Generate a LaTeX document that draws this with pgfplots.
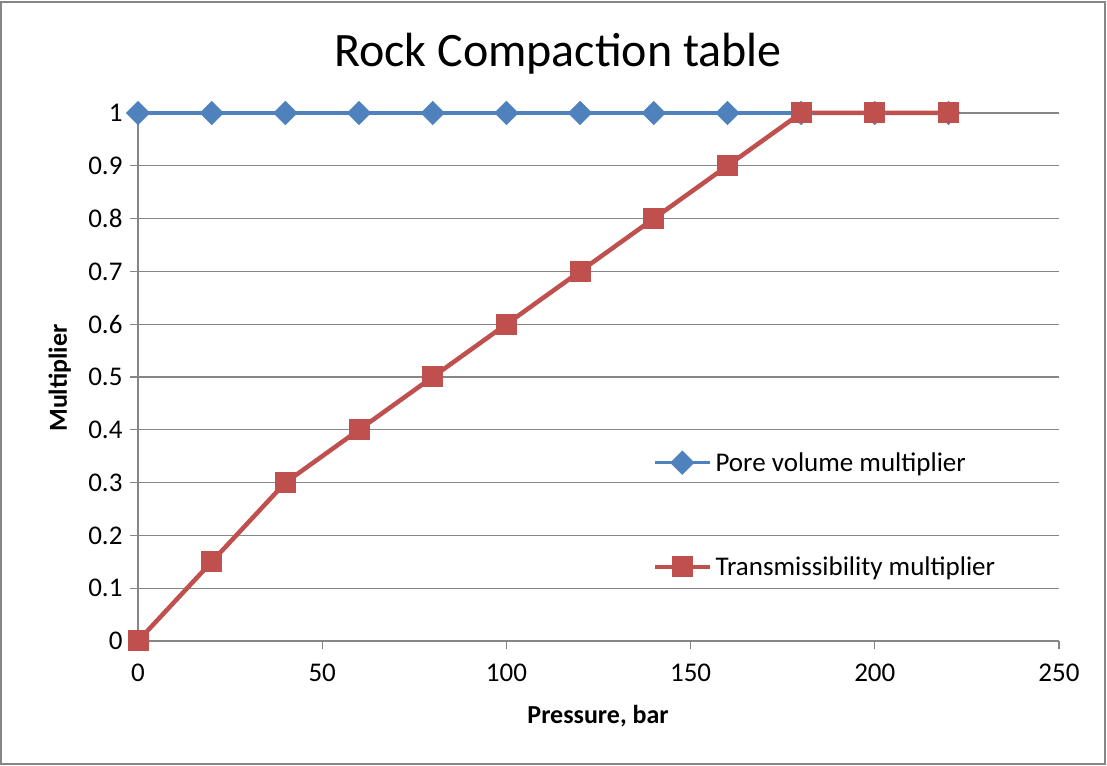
\documentclass[border=0pt]{standalone}
\usepackage{pgfplots}
\pgfplotsset{compat=1.18}
\usepackage{fontspec}
\setmainfont{Carlito}
\definecolor{xlblue}{HTML}{4F81BD}
\definecolor{xlred}{HTML}{C0504D}
\definecolor{xlgrid}{HTML}{868686}
\begin{document}
\begin{tikzpicture}[x=1pt,y=1pt]
\useasboundingbox (0,0) rectangle (1107,765);
\draw[xlgrid, line width=1.2pt] (1,1) rectangle (1105,763);
\node[font=\fontsize{48}{56}\selectfont, anchor=base, inner sep=0pt] at (558,698) {Rock Compaction table};
\begin{axis}[
  at={(138pt,124pt)}, anchor=origin,
  scale only axis, width=921pt, height=528pt,
  xmin=0, xmax=250, ymin=0, ymax=1,
  axis x line*=bottom, axis y line*=left,
  axis line style={xlgrid, line width=1.2pt, -},
  xtick={0,50,...,250},
  ytick={0,0.1,...,1},
  yticklabels={0,0.1,0.2,0.3,0.4,0.5,0.6,0.7,0.8,0.9,1},
  xticklabels={0,50,100,150,200,250},
  tick align=outside, major tick length=8pt,
  tick style={xlgrid, line width=1.2pt},
  ymajorgrids, grid style={xlgrid, line width=1.2pt},
  tick label style={font=\fontsize{27}{32}\selectfont},
  xticklabel style={yshift=-11pt},
  yticklabel style={xshift=-4pt},
  xlabel={\bfseries Pressure, bar},
  ylabel={\bfseries Multiplier},
  label style={font=\fontsize{26}{30}\selectfont},
  xlabel style={at={(axis description cs:0.4995,-0.1553)}, anchor=base, inner sep=0pt},
  ylabel style={at={(axis description cs:-0.0771,0.498)}, anchor=base, inner sep=0pt},
  clip=false,
  legend style={draw=none, fill=none, at={(axis description cs:0.559,0.239)}, anchor=west,
    font=\fontsize{27}{32}\selectfont, row sep=80pt, inner sep=0pt,
    nodes={inner xsep=3pt}},
  legend cell align=left,
  legend image code/.code={\draw[mark repeat=2,mark phase=2] plot coordinates {(0pt,0pt) (27pt,0pt) (55pt,0pt)};},
]
\addplot[xlblue, line width=3.2pt, mark=square*, mark size=7pt, mark options={rotate=45, solid, fill=xlblue, draw=xlblue}]
  coordinates {(0,1) (20,1) (40,1) (60,1) (80,1) (100,1) (120,1) (140,1) (160,1) (180,1) (200,1) (220,1)};
\addlegendentry{Pore volume multiplier}
\addplot[xlred, line width=4.5pt, mark=square*, mark size=10pt, mark options={solid, fill=xlred, draw=xlred, line width=0pt}]
  coordinates {(0,0) (20,0.15) (40,0.3) (60,0.4) (80,0.5) (100,0.6) (120,0.7) (140,0.8) (160,0.9) (180,1) (200,1) (220,1)};
\addlegendentry{Transmissibility multiplier}
\end{axis}
\end{tikzpicture}
\end{document}
